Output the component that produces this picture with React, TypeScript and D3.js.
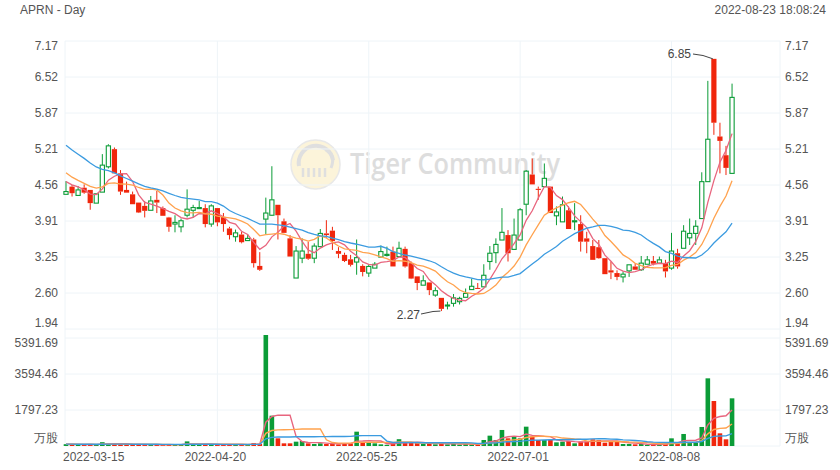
import React from "react";
import * as d3 from "d3";

const title = "APRN - Day";
const timestamp = "2022-08-23 18:08:24";
const tickDates = ["2022-03-15", "2022-04-20", "2022-05-25", "2022-07-01", "2022-08-08"];
const tickIdx = [0, 25, 50, 75, 100];
const priceTicks = ["7.17", "6.52", "5.87", "5.21", "4.56", "3.91", "3.25", "2.60", "1.94"];
const volTicks = ["5391.69", "3594.46", "1797.23", "万股"];

const opens = [4.39,4.53,4.37,4.51,4.47,4.23,4.43,4.89,5.21,4.77,4.47,4.39,4.24,4.18,4.10,4.29,4.14,3.97,3.85,3.80,4.01,4.10,4.13,4.14,3.85,4.14,3.98,3.77,3.62,3.66,3.55,3.57,3.09,3.94,4.01,4.20,3.90,3.59,2.87,3.23,3.31,3.23,3.44,3.68,3.73,3.36,3.29,3.21,3.16,3.09,2.96,3.05,3.25,3.28,3.35,3.26,3.40,3.14,2.90,2.74,2.79,2.56,2.51,2.37,2.41,2.44,2.52,2.66,2.69,2.71,3.17,3.33,3.56,3.65,3.39,3.56,4.21,4.75,4.49,4.53,4.53,4.00,3.89,4.10,3.89,3.85,3.59,3.45,3.43,3.23,3.01,2.96,2.89,3.00,3.08,3.02,3.12,3.18,3.14,3.14,3.05,3.32,3.41,3.60,3.68,3.95,4.62,6.85,5.44,5.10,4.77];
const highs = [4.63,4.56,4.54,4.57,4.47,4.40,5.12,5.30,5.24,4.83,4.62,4.44,4.24,4.27,4.36,4.45,4.17,3.98,4.01,3.95,4.48,4.20,4.27,4.21,4.21,4.14,4.05,3.80,3.75,3.71,3.67,3.60,3.34,4.33,4.90,4.20,3.95,3.65,3.45,3.59,3.53,3.50,3.76,3.92,3.80,3.43,3.33,3.29,3.57,3.12,3.12,3.16,3.46,3.44,3.44,3.53,3.44,3.17,2.90,2.92,2.79,2.70,2.51,2.44,2.58,2.53,2.68,2.86,2.78,3.12,3.45,3.59,4.14,3.74,3.95,4.14,4.83,5.04,4.53,4.95,4.53,4.17,4.35,4.17,4.23,4.01,3.71,3.56,3.56,3.23,3.17,3.01,2.99,3.11,3.13,3.27,3.27,3.27,3.26,3.20,3.69,3.40,3.83,3.95,3.92,4.79,6.45,6.85,5.69,5.27,6.40];
const lows = [4.39,4.35,4.37,4.40,4.11,4.23,4.43,4.86,4.77,4.38,4.42,4.21,4.05,3.97,4.10,4.05,4.00,3.71,3.70,3.70,3.97,3.97,4.13,3.79,3.80,3.81,3.71,3.57,3.53,3.50,3.55,3.06,3.00,3.67,4.00,3.57,3.69,3.26,2.87,3.14,3.20,3.14,3.44,3.60,3.38,3.23,3.16,3.08,2.93,2.90,2.89,3.05,3.25,3.26,3.08,3.26,3.06,2.85,2.65,2.74,2.56,2.53,2.27,2.30,2.35,2.39,2.52,2.66,2.68,2.71,3.02,3.14,3.56,3.17,3.39,3.56,4.01,4.57,4.29,4.53,4.05,3.83,3.89,3.76,3.74,3.35,3.32,3.20,3.22,2.94,2.85,2.83,2.79,2.89,3.02,3.00,3.12,3.10,3.14,2.88,3.02,3.04,3.41,3.47,3.47,3.95,4.62,5.47,4.77,4.74,4.77];
const closes = [4.44,4.41,4.47,4.42,4.23,4.40,4.92,5.27,4.77,4.44,4.42,4.21,4.06,4.09,4.27,4.24,4.00,3.80,3.88,3.91,4.12,4.15,4.15,3.85,4.18,3.88,3.85,3.65,3.69,3.52,3.59,3.14,3.02,4.05,4.29,4.01,3.69,3.26,3.36,3.36,3.22,3.45,3.68,3.65,3.54,3.31,3.18,3.11,3.24,2.98,3.08,3.12,3.35,3.30,3.08,3.41,3.08,2.86,2.78,2.82,2.65,2.64,2.31,2.38,2.51,2.50,2.59,2.72,2.68,2.92,3.32,3.48,3.70,3.32,3.65,4.11,4.81,4.57,4.47,4.68,4.05,4.07,4.20,3.76,3.91,3.53,3.53,3.20,3.23,2.94,2.97,2.89,2.94,3.11,3.02,3.14,3.20,3.13,3.20,2.99,3.36,3.08,3.72,3.68,3.81,4.62,5.39,5.69,5.36,4.87,6.15];
const volumes = [90,70,60,70,90,60,190,110,100,90,60,80,70,60,70,60,70,80,60,70,230,90,70,80,70,80,70,80,60,70,60,150,110,5541,1513,383,133,133,216,250,133,100,133,100,133,83,150,133,715,150,150,133,83,60,140,340,150,150,150,100,150,83,150,83,116,66,116,66,50,300,516,300,800,383,466,383,965,466,300,300,300,183,216,250,133,216,216,333,300,166,216,216,100,100,83,100,50,50,83,133,383,133,600,166,166,950,3378,2246,633,333,2380];
// sessions before the visible window (needed for the moving averages)
const priorCloses = [6.1,6.0,5.95,5.9,5.85,5.8,5.7,5.6,5.5,5.4,5.2,5.05,4.95,4.8,4.7,4.7,4.65,4.68,4.63];
const priorVolumes = [90,100,80,110,90,100,80,90,100,80,110,90,100,80,90,100,80,90,100];

const UP = "#0b9c37";
const DOWN = "#f0260c";
const MA_COLORS = ["#e8657e", "#ffa24e", "#3b9be0"];
const MA_N = [5, 10, 20];
const GRID = "#eef4f8";
const FONT = "'Liberation Sans', Arial, sans-serif";

function movingAvg(prior: number[], vals: number[], n: number): number[] {
  const all = prior.concat(vals);
  const off = prior.length;
  return vals.map((_, i) => {
    const s = all.slice(off + i - n + 1, off + i + 1);
    return d3.mean(s) as number;
  });
}

export default function App() {
  const W = 840, H = 470;
  const x = d3.scaleLinear().domain([0, 100]).range([66, 671.5]);
  const pMax = 7.174, pStep = 0.6537;
  const yP = d3.scaleLinear().domain([pMax - 8 * pStep, pMax]).range([329, 41]);
  const yV = d3.scaleLinear().domain([0, 5391.69]).range([446, 338]);
  const left = 65, right = 780;
  const n = closes.length;
  const idx = d3.range(n);

  const priceLine = (arr: number[]) =>
    d3.line<number>().x((_, i) => x(i)).y((d) => yP(d))(arr) as string;
  const volLine = (arr: number[]) =>
    d3.line<number>().x((_, i) => x(i)).y((d) => yV(d))(arr) as string;

  const priceMAs = MA_N.map((m) => movingAvg(priorCloses, closes, m));
  const volMAs = MA_N.map((m) => movingAvg(priorVolumes, volumes, m));

  const maxI = d3.maxIndex(highs);
  const minI = d3.minIndex(lows);
  const fmt = d3.format(".2f");

  const priceTickVals = priceTicks.map((_, k) => pMax - k * pStep);
  const volTickVals = volTicks.map((_, k) => 5391.69 - k * 1797.23);

  return (
    <svg width={W} height={H} style={{ position: "absolute", left: 0, top: 0, background: "#fff" }} fontFamily={FONT}>
      <rect x={0} y={0} width={W} height={H} fill="#fff" />
      {/* header */}
      <text x={20} y={14} fontSize={12} fill="#555">{title}</text>
      <text x={826} y={14} fontSize={12} fill="#555" textAnchor="end">{timestamp}</text>

      {/* watermark */}
      <g opacity={0.9}>
        <circle cx={315.5} cy={164.5} r={24.5} fill="#fcf3d6" stroke="#e6e6e6" strokeWidth={1.5} />
        <path d="M299,166 A17,17 0 1,1 333,160" fill="none" stroke="#dcdcdc" strokeWidth={4} />
        <path d="M326,150 Q336,156 331,168" fill="none" stroke="#dcdcdc" strokeWidth={3} />
        {[0, 1, 2, 3, 4].map((k) => (
          <line key={k} x1={303 + k * 5.5} y1={168} x2={303 + k * 5.5} y2={177} stroke="#dcdcdc" strokeWidth={2.5} />
        ))}
        <text x={350} y={174} fontSize={28} fontFamily="'Open Sans', sans-serif" fontWeight={600} fill="#dadada" textLength={210} lengthAdjust="spacingAndGlyphs">Tiger Community</text>
      </g>

      {/* grid */}
      {priceTickVals.map((v, k) => (
        <line key={"pg" + k} x1={left} x2={right} y1={yP(v)} y2={yP(v)} stroke={GRID} strokeWidth={1} />
      ))}
      {volTickVals.map((v, k) => (
        <line key={"vg" + k} x1={left} x2={right} y1={yV(v)} y2={yV(v)} stroke={GRID} strokeWidth={1} />
      ))}
      {tickIdx.map((t, k) => (
        <line key={"xg" + k} x1={k === 0 ? left : x(t)} x2={k === 0 ? left : x(t)} y1={41} y2={446} stroke={GRID} strokeWidth={1} />
      ))}
      <line x1={right} x2={right} y1={41} y2={446} stroke={GRID} strokeWidth={1} />

      {/* axis labels */}
      {priceTicks.map((t, k) => {
        let yy = yP(priceTickVals[k]);
        if (k === 0) yy += 5;
        if (k === priceTicks.length - 1) yy -= 6;
        return (
          <g key={"pt" + k}>
            <text x={58} y={yy} dy="0.35em" fontSize={12} fill="#555" textAnchor="end">{t}</text>
            <text x={785} y={yy} dy="0.35em" fontSize={12} fill="#555">{t}</text>
          </g>
        );
      })}
      {volTicks.map((t, k) => {
        let yy = yV(volTickVals[k]);
        if (k === 0) yy += 5;
        if (k === volTicks.length - 1) yy -= 8;
        return (
          <g key={"vt" + k}>
            <text x={58} y={yy} dy="0.35em" fontSize={12} fill="#555" textAnchor="end">{t}</text>
            <text x={785} y={yy} dy="0.35em" fontSize={12} fill="#555">{t}</text>
          </g>
        );
      })}
      {tickDates.map((d, k) => (
        <text key={"dt" + k} x={k === 0 ? 63 : x(tickIdx[k]) - 2} y={457} dy="0.35em" fontSize={12} fill="#555" textAnchor={k === 0 ? "start" : "middle"}>{d}</text>
      ))}

      {/* volume bars */}
      {idx.map((i) => {
        const up = closes[i] >= opens[i];
        const top = yV(volumes[i]);
        return (
          <rect key={"v" + i} x={x(i) - 2.3} y={top} width={4.6} height={Math.max(1, yV(0) - top)} fill={up ? UP : DOWN} />
        );
      })}
      {volMAs.map((arr, k) => (
        <path key={"vma" + k} d={volLine(arr)} fill="none" stroke={MA_COLORS[k]} strokeWidth={1.4} />
      ))}

      {/* candles */}
      {idx.map((i) => {
        const up = closes[i] >= opens[i];
        const cx = x(i);
        const bt = yP(Math.max(opens[i], closes[i]));
        const bb = yP(Math.min(opens[i], closes[i]));
        const bh = Math.max(1, bb - bt);
        const c = up ? UP : DOWN;
        return (
          <g key={"c" + i}>
            <line x1={cx} x2={cx} y1={yP(highs[i])} y2={bt} stroke={c} strokeWidth={1} />
            <line x1={cx} x2={cx} y1={bt + bh} y2={yP(lows[i])} stroke={c} strokeWidth={1} />
            {up ? (
              <rect x={cx - 2.1} y={bt} width={4.2} height={bh} fill="#fff" stroke={c} strokeWidth={1.1} />
            ) : (
              <rect x={cx - 2.6} y={bt} width={5.2} height={bh} fill={c} />
            )}
          </g>
        );
      })}
      {priceMAs.map((arr, k) => (
        <path key={"pma" + k} d={priceLine(arr)} fill="none" stroke={MA_COLORS[k]} strokeWidth={1.3} />
      ))}

      {/* extremes */}
      <polyline points={`693,54 703,55.5 ${x(maxI) - 1},${yP(highs[maxI])}`} fill="none" stroke="#444" strokeWidth={1} />
      <text x={691} y={54} dy="0.35em" fontSize={12} fill="#444" textAnchor="end">{fmt(highs[maxI])}</text>
      <polyline points={`421,314 433,311.5 ${x(minI) - 1},${yP(lows[minI])}`} fill="none" stroke="#444" strokeWidth={1} />
      <text x={420} y={315} dy="0.35em" fontSize={12} fill="#444" textAnchor="end">{fmt(lows[minI])}</text>
    </svg>
  );
}
